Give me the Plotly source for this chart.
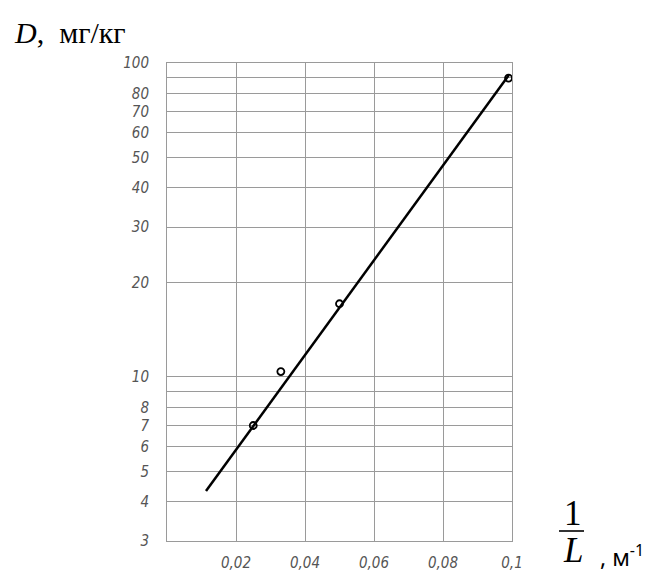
import plotly.graph_objects as go

# Measured points: inverse length 1/L (m^-1) vs dose D (mg/kg)
inv_length = [0.025, 0.033, 0.05, 0.099]
dose = [7.0, 10.4, 17.1, 89.5]

# Trend line (drawn between its two end values)
trend_inv_length = [0.0113, 0.0991]
trend_dose = [4.33, 91.6]

# Axis ticks (9 and 90 get a grid line but no label)
x_ticks = [0.02, 0.04, 0.06, 0.08, 0.1]
x_tick_text = ["0,02", "0,04", "0,06", "0,08", "0,1"]
y_ticks = [3, 4, 5, 6, 7, 8, 10, 20, 30, 40, 50, 60, 70, 80, 100]
y_tick_text = ["3", "4", "5", "6", "7", "8", "10", "20", "30", "40",
               "50", "60", "70", "80", "100"]
y_unlabelled_grid = [9, 90]

W, H = 659, 572
L_M, R_M, T_M, B_M = 167, 147, 63, 31
PW, PH = W - L_M - R_M, H - T_M - B_M


def px(x):
    return (x - L_M) / PW


def py(y):
    return (H - B_M - y) / PH


tick_font = dict(family="DejaVu Sans Condensed, DejaVu Sans", size=15,
                 color="#555555", style="italic")
grid_col = "#9a9a9a"

fig = go.Figure()
fig.add_trace(go.Scatter(
    x=trend_inv_length, y=trend_dose, mode="lines",
    line=dict(color="black", width=2.5), showlegend=False, hoverinfo="skip"))
fig.add_trace(go.Scatter(
    x=inv_length, y=dose, mode="markers",
    marker=dict(symbol="circle-open", size=7, color="black",
                line=dict(width=1.8, color="black")),
    showlegend=False))

fig.update_xaxes(
    range=[0, 0.1], tickvals=x_ticks, ticktext=x_tick_text,
    showgrid=True, gridcolor=grid_col, gridwidth=1,
    showline=True, linecolor=grid_col, linewidth=1, mirror=True,
    zeroline=False, ticks="", tickfont=tick_font, ticklabelstandoff=8,
    automargin=False)
fig.update_yaxes(
    type="log", range=[0.47712, 2.0], tickvals=y_ticks, ticktext=y_tick_text,
    showgrid=True, gridcolor=grid_col, gridwidth=1,
    minor=dict(tickvals=y_unlabelled_grid, showgrid=True, gridcolor=grid_col,
               gridwidth=1, ticks=""),
    showline=True, linecolor=grid_col, linewidth=1, mirror=True,
    zeroline=False, ticks="", tickfont=tick_font, ticklabelstandoff=14,
    automargin=False)

serif = "Liberation Serif, Times New Roman, serif"
annotations = [
    dict(text="<i>D</i>,  мг/кг", x=px(12), y=py(32), xanchor="left",
         yanchor="middle", font=dict(family=serif, size=30, color="black")),
    dict(text="1", x=px(573), y=py(513), xanchor="center", yanchor="middle",
         height=32, font=dict(family=serif, size=35, color="black")),
    dict(text="<i>L</i>", x=px(573), y=py(550), xanchor="center",
         yanchor="middle", height=32,
         font=dict(family=serif, size=35, color="black")),
    dict(text=", м<sup>-1</sup>", x=px(598), y=py(556), xanchor="left",
         yanchor="middle",
         font=dict(family="Noto Sans, Open Sans, sans-serif", size=23,
                   color="black")),
]
for a in annotations:
    a.update(xref="paper", yref="paper", showarrow=False)

fig.update_layout(
    width=W, height=H, margin=dict(l=L_M, r=R_M, t=T_M, b=B_M),
    paper_bgcolor="white", plot_bgcolor="white",
    annotations=annotations,
    shapes=[dict(type="line", xref="paper", yref="paper",
                 x0=px(559), x1=px(584), y0=py(531), y1=py(531),
                 line=dict(color="black", width=1.6))])

fig.write_html("out.html")
